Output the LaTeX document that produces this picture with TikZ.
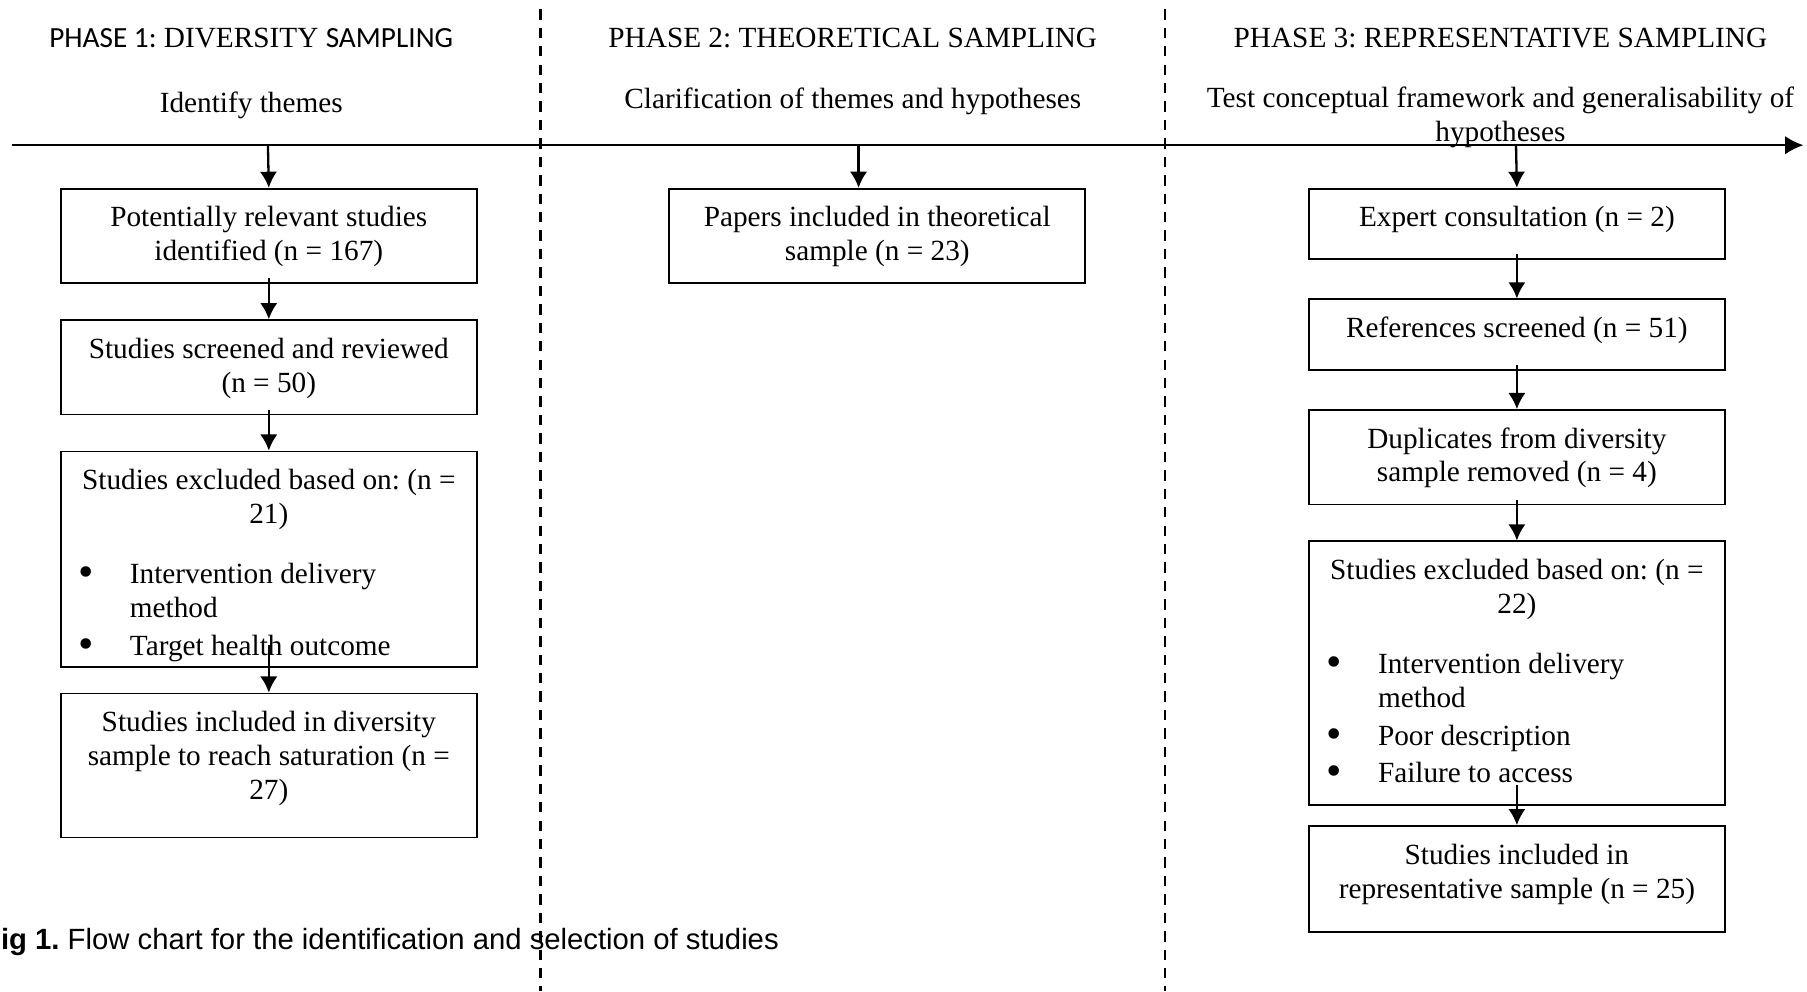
\documentclass[tikz,border=0pt]{standalone}
\usepackage{fontspec}
\setmainfont{Liberation Serif}
\newfontfamily\calibrifont{Carlito}
\newfontfamily\arialfont{Liberation Sans}
\usepackage{tikz}
\usetikzlibrary{%
  arrows.meta,%
  calc%
}
\frenchspacing
\pgfmathsetmacro\boxwd{180.5}
%% box text: height, then lines
\newcommand\stagetext[2]{\parbox[t][#1pt][t]{\boxwd pt}{\centering\rule{0pt}{16.5pt}#2}}
\newcommand\bulletline[1]{\hspace*{7.5pt}\makebox[22.5pt][l]{\raisebox{-1.3pt}{\scalebox{1.5}{\textbullet}}}#1}

\begin{document}
\begin{tikzpicture}[x=.5pt,y=-.5pt,
  font=\fontsize{12.7}{14.75}\selectfont,
  stage/.style={draw,line width=.75pt,inner sep=0pt,anchor=north west},
  flow/.style={-{Latex[length=7pt,width=7.5pt]},line width=1pt},
  divider/.style={line width=1pt,dash pattern=on 4.5pt off 3.5pt}]

  \useasboundingbox (0,0) rectangle (1568,860);

  %% phase dividers
  \draw[divider] (469,8) -- (469,860);
  \draw[divider] (1011,8) -- (1011,860);

  %% time axis
  \draw[-{Latex[length=8pt,width=8pt]},line width=1pt] (10,126) -- (1565,126);
  \coordinate (axisone) at (232.5,126);
  \coordinate (axistwo) at (745,126);
  \coordinate (axisthree) at (1315.5,126);

  %%%%%%%%%%%%%%%%
  %% headings
  \node (phaseone) at (218,33) {{\calibrifont PHASE 1:} DIVERSITY {\calibrifont SAMPLING}};
  \node (phasetwo) at (740,33) {PHASE 2: THEORETICAL SAMPLING};
  \node (phasethree) at (1302,33) {PHASE 3: REPRESENTATIVE SAMPLING};

  \node (aimone) at (218,91) {Identify themes};
  \node (aimtwo) at (740,88) {Clarification of themes and hypotheses};
  \node[align=center] (aimthree) at (1302,102)
  {Test conceptual framework and generalisability of\\hypotheses};

  %%%%%%%%%%%%%%%%
  %% phase 1 boxes
  \node[stage] (found) at (52,163)
  {\stagetext{41}{Potentially relevant studies\\identified (n = 167)}};
  \node[stage] (screened) at (52,277)
  {\stagetext{41}{Studies screened and reviewed\\(n = 50)}};
  \node[stage] (excluded) at (52,391)
  {\stagetext{93.5}{Studies excluded based on: (n =\\21)\\[11.5pt]
    \raggedright
    \bulletline{Intervention delivery}\\
    \hspace*{30pt}method\\[1.5pt]
    \bulletline{Target health outcome}}};
  \node[stage] (diverse) at (52,601)
  {\stagetext{62.5}{Studies included in diversity\\sample to reach saturation (n =\\27)}};

  %% phase 2 box
  \node[stage] (theory) at (580,163)
  {\stagetext{41}{Papers included in theoretical\\sample (n = 23)}};

  %% phase 3 boxes
  \node[stage] (expert) at (1135,163)
  {\stagetext{30.5}{Expert consultation (n = 2)}};
  \node[stage] (refs) at (1135,259)
  {\stagetext{30.5}{References screened (n = 51)}};
  \node[stage] (dups) at (1135,355)
  {\stagetext{41}{Duplicates from diversity\\sample removed (n = 4)}};
  \node[stage] (dropped) at (1135,469)
  {\stagetext{114.5}{Studies excluded based on: (n =\\22)\\[11.5pt]
    \raggedright
    \bulletline{Intervention delivery}\\
    \hspace*{30pt}method\\[1.5pt]
    \bulletline{Poor description}\\[1.5pt]
    \bulletline{Failure to access}}};
  \node[stage] (repres) at (1135,716)
  {\stagetext{46}{Studies included in\\representative sample (n = 25)}};

  %%%%%%%%%%%%%%%%
  %% arrows
  \draw[flow] (axisone) -- (found.north);
  \draw[flow] ([yshift=2.5pt]found.south) -- (screened.north);
  \draw[flow] ([yshift=2.5pt]screened.south) -- (excluded.north);
  \draw[flow] ([yshift=10pt]excluded.south) -- (diverse.north);

  \draw[flow] (axistwo) -- (axistwo |- theory.north);

  \draw[flow] (axisthree) -- (expert.north);
  \draw[flow] ([yshift=2.5pt]expert.south) -- (refs.north);
  \draw[flow] ([yshift=2.5pt]refs.south) -- (dups.north);
  \draw[flow] ([yshift=2.5pt]dups.south) -- (dropped.north);
  \draw[flow] ([yshift=9pt]dropped.south) -- (repres.north);

  %% caption
  \node[anchor=base west,inner sep=0pt,font=\arialfont\fontsize{12.7}{14.75}\selectfont]
  (caption) at (-15,824) {\textbf{Fig 1.} Flow chart for the identification and selection of studies};

\end{tikzpicture}
\end{document}
